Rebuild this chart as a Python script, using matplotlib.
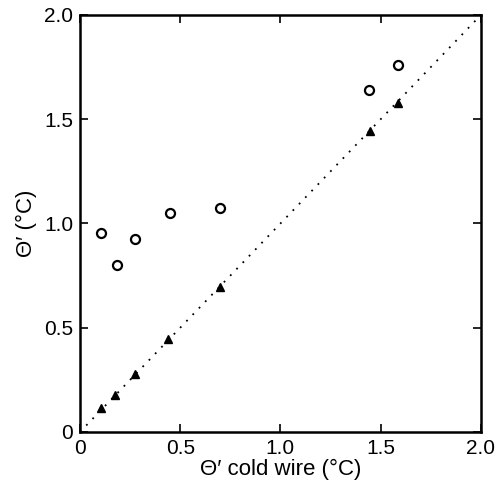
import matplotlib
matplotlib.use("Agg")
import matplotlib.pyplot as plt
from matplotlib.ticker import FixedLocator, FixedFormatter

plt.rcParams["font.family"] = ["Liberation Sans", "DejaVu Sans"]

# open circles
circ_x = [0.105, 0.185, 0.274, 0.449, 0.70, 1.44, 1.586]
circ_y = [0.954, 0.80, 0.926, 1.05, 1.074, 1.64, 1.76]
# filled triangles
tri_x = [0.105, 0.175, 0.274, 0.44, 0.70, 1.446, 1.586]
tri_y = [0.115, 0.177, 0.278, 0.446, 0.695, 1.444, 1.578]

ticks = [0, 0.5, 1.0, 1.5, 2.0]
tick_labels = ["0", "0.5", "1.0", "1.5", "2.0"]

fig = plt.figure(figsize=(4.98, 4.90), dpi=100)
ax = fig.add_axes([0.1606, 0.1184, 0.805, 0.851])

ax.plot([0, 2], [0, 2], linestyle=(0, (1, 4)), color="black", linewidth=1.3)
ax.plot(circ_x, circ_y, "o", markerfacecolor="white", markeredgecolor="black",
        markersize=6.5, markeredgewidth=1.6, linestyle="none")
ax.plot(tri_x, tri_y, "^", color="black", markersize=5.5, linestyle="none")

ax.set_xlim(0, 2)
ax.set_ylim(0, 2)
for axis in (ax.xaxis, ax.yaxis):
    axis.set_major_locator(FixedLocator(ticks))
    axis.set_major_formatter(FixedFormatter(tick_labels))
ax.tick_params(direction="in", top=True, right=True, length=6, width=1.2,
               labelsize=15, pad=5)
for s in ax.spines.values():
    s.set_linewidth(1.8)

ax.set_xlabel("Θ′ cold wire (°C)", fontsize=16, labelpad=1)
ax.set_ylabel("Θ′ (°C)", fontsize=16, labelpad=5)

fig.savefig("out.png", dpi=100)
